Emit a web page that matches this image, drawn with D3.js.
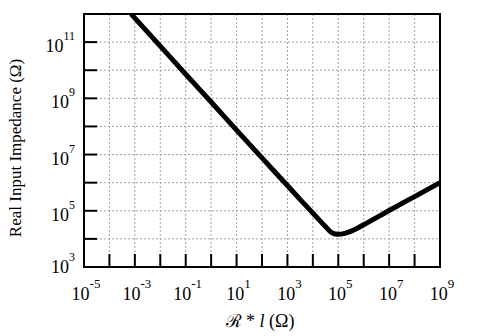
<!DOCTYPE html>
<html>
<head>
<meta charset="utf-8">
<script src="https://cdn.jsdelivr.net/npm/d3@7"></script>
<style>
  body { margin: 0; background: #fff; }
  text { font-family: "Liberation Serif", "Times New Roman", "DejaVu Serif", serif; fill: #000; }
</style>
</head>
<body>
<svg id="chart" width="485" height="336"></svg>
<script>
// R*l (ohm)
var rlValues = [7.1e-4, 1e-3, 1e-2, 1e-1, 1, 10, 100, 1e3, 3.2e3, 1e4, 3.2e4, 5.6e4, 1e5, 1.8e5, 3.2e5, 1e6, 1e7, 1e8, 1e9];
// real input impedance (ohm)
var zValues  = [1e12, 7.1e11, 7.2e10, 7.2e9, 7.4e8, 7.4e7, 7.6e6, 7.9e5, 2.5e5, 8.3e4, 2.7e4, 1.65e4, 1.45e4, 1.58e4, 1.88e4, 3.2e4, 1.02e5, 3.2e5, 1.0e6];

// ticks (every decade), labels only on odd powers
var xTicks = [1e-5, 1e-4, 1e-3, 1e-2, 1e-1, 1, 10, 100, 1e3, 1e4, 1e5, 1e6, 1e7, 1e8, 1e9];
var xLabelExp = [-5, -3, -1, 1, 3, 5, 7, 9];
var yTicks = [1e3, 1e4, 1e5, 1e6, 1e7, 1e8, 1e9, 1e10, 1e11, 1e12];
var yLabelExp = [3, 5, 7, 9, 11];

var svg = d3.select("#chart");
var margin = {left: 84, right: 45, top: 14, bottom: 69};
var W = 485 - margin.left - margin.right,
    H = 336 - margin.top - margin.bottom;

var x = d3.scaleLog().domain([1e-5, 1e9]).range([0, W]);
var y = d3.scaleLog().domain([1e3, 1e12]).range([H, 0]);

var g = svg.append("g").attr("transform", "translate(" + margin.left + "," + margin.top + ")");

svg.append("defs").append("clipPath").attr("id", "plotclip")
  .append("rect").attr("width", W).attr("height", H);

// dotted grid
g.selectAll("line.vgrid").data(xTicks.slice(1, -1)).enter().append("line")
  .attr("x1", function(d) { return x(d); }).attr("x2", function(d) { return x(d); })
  .attr("y1", 0).attr("y2", H)
  .attr("stroke", "#a0a0a0").attr("stroke-width", 1).attr("stroke-dasharray", "2,2");
g.selectAll("line.hgrid").data(yTicks.slice(1, -1)).enter().append("line")
  .attr("y1", function(d) { return y(d); }).attr("y2", function(d) { return y(d); })
  .attr("x1", 0).attr("x2", W)
  .attr("stroke", "#a0a0a0").attr("stroke-width", 1).attr("stroke-dasharray", "2,2");

// tick marks, inside
var tl = 13;
g.selectAll("line.xt").data(xTicks.slice(1, -1)).enter().append("line")
  .attr("x1", function(d) { return x(d); }).attr("x2", function(d) { return x(d); })
  .attr("y1", H).attr("y2", H - tl)
  .attr("stroke", "#000").attr("stroke-width", 2);
g.selectAll("line.yt").data(yTicks.slice(1, -1)).enter().append("line")
  .attr("y1", function(d) { return y(d); }).attr("y2", function(d) { return y(d); })
  .attr("x1", 0).attr("x2", tl)
  .attr("stroke", "#000").attr("stroke-width", 2);

// the curve
var line = d3.line()
  .x(function(d, i) { return x(rlValues[i]); })
  .y(function(d) { return y(d); })
  .curve(d3.curveMonotoneX);
g.append("path").datum(zValues)
  .attr("clip-path", "url(#plotclip)")
  .attr("d", line)
  .attr("fill", "none").attr("stroke", "#000").attr("stroke-width", 5)
  .attr("stroke-linejoin", "round");

// frame
g.append("rect").attr("width", W).attr("height", H)
  .attr("fill", "none").attr("stroke", "#000").attr("stroke-width", 2);

// y tick labels
var yl = g.selectAll("text.yl").data(yLabelExp).enter().append("text")
  .attr("x", -9).attr("y", function(d) { return y(Math.pow(10, d)) + (d === 3 ? 6 : 10); })
  .attr("text-anchor", "end")
  .style("font-size", "18px");
yl.append("tspan").text("10");
yl.append("tspan").attr("dy", -12).style("font-size", "12px").text(function(d) { return d; });

// x tick labels
var xl = g.selectAll("text.xl").data(xLabelExp).enter().append("text")
  .attr("x", function(d) { return x(Math.pow(10, d)) + 2; }).attr("y", H + 33)
  .attr("text-anchor", "middle")
  .style("font-size", "18px");
xl.append("tspan").text("10");
xl.append("tspan").attr("dy", -12).style("font-size", "13px").text(function(d) { return d < 0 ? "-" + (-d) : d; });

// axis titles
var xt = svg.append("text")
  .attr("x", margin.left + W / 2 - 2).attr("y", 327)
  .attr("text-anchor", "middle").style("font-size", "18px");
xt.append("tspan").text("\u211B * ");
xt.append("tspan").style("font-style", "italic").text("l");
xt.append("tspan").text(" (\u03A9)");

svg.append("text")
  .attr("transform", "translate(21," + 148 + ") rotate(-90)")
  .attr("text-anchor", "middle").style("font-size", "17px")
  .text("Real Input Impedance  (\u03A9)");
</script>
</body>
</html>
